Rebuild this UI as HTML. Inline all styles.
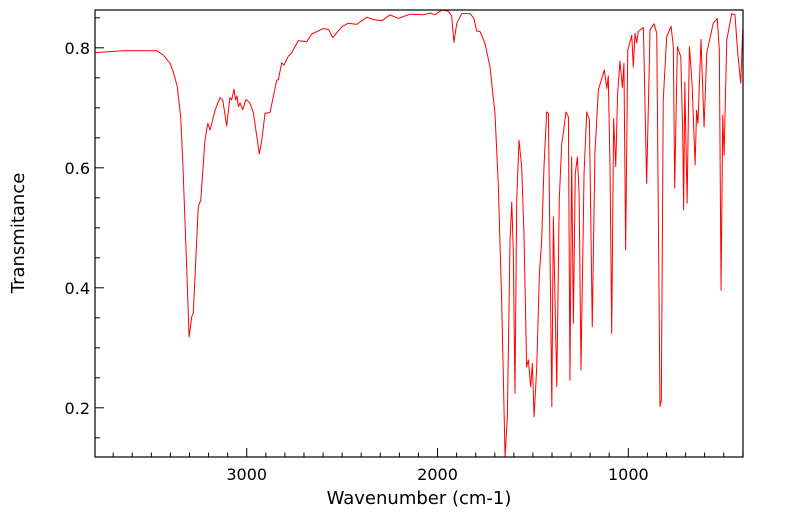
<!DOCTYPE html>
<html><head><meta charset="utf-8"><style>
html,body{margin:0;padding:0;background:#fff;}
svg{display:block;font-family:"DejaVu Sans","Liberation Sans",sans-serif;}
</style></head><body>
<svg id="chart" width="799" height="516" viewBox="0 0 799 516" xmlns="http://www.w3.org/2000/svg">
<defs><clipPath id="clip"><rect x="95" y="10" width="648" height="447"/></clipPath></defs>
<g id="ticks"></g>
<g id="labels"></g>
<path id="line" fill="none" stroke="#ff0000" stroke-width="1" stroke-linejoin="round" clip-path="url(#clip)"/>
<rect x="95" y="10" width="648" height="447" fill="none" stroke="#000" stroke-width="1.2"/>
<text x="419" y="504" font-size="18" text-anchor="middle">Wavenumber (cm-1)</text>
<text x="24" y="233" font-size="18" text-anchor="middle" transform="rotate(-90 24 233)">Transmitance</text>
</svg>
<script>
const wavenumbers = [3795,3648,3472,3437,3402,3385,3364,3346,3335,3318,3302,3288,3280,3254,3241,3219,3204,3192,3166,3140,3126,3105,3088,3079,3067,3058,3051,3044,3035,3021,3004,2983,2965,2934,2921,2904,2878,2843,2834,2817,2805,2782,2764,2730,2686,2659,2599,2572,2549,2502,2468,2423,2371,2336,2292,2249,2205,2144,2074,2039,2013,1978,1943,1926,1914,1899,1873,1830,1809,1795,1777,1751,1725,1699,1681,1664,1646,1634,1620,1611,1603,1594,1585,1573,1559,1547,1533,1524,1512,1503,1494,1480,1466,1454,1442,1428,1419,1401,1393,1375,1362,1349,1341,1327,1314,1306,1297,1288,1278,1267,1258,1248,1232,1218,1204,1189,1175,1157,1126,1113,1105,1096,1087,1077,1066,1056,1044,1031,1023,1014,1003,982,974,965,956,948,921,904,886,865,851,834,827,817,799,776,764,757,743,725,715,710,704,692,680,666,650,642,635,619,603,589,555,534,523,514,505,498,484,458,441,427,411,400];
const transmittance = [0.792,0.795,0.795,0.788,0.774,0.760,0.735,0.685,0.608,0.463,0.318,0.352,0.358,0.535,0.546,0.646,0.674,0.663,0.696,0.717,0.713,0.670,0.717,0.713,0.731,0.713,0.720,0.702,0.708,0.697,0.714,0.708,0.691,0.623,0.646,0.691,0.692,0.746,0.747,0.775,0.771,0.786,0.792,0.812,0.810,0.823,0.832,0.831,0.817,0.835,0.841,0.839,0.851,0.847,0.845,0.855,0.849,0.856,0.855,0.858,0.855,0.863,0.861,0.853,0.809,0.841,0.857,0.857,0.849,0.828,0.827,0.807,0.768,0.691,0.568,0.380,0.118,0.185,0.480,0.543,0.463,0.224,0.546,0.646,0.602,0.491,0.268,0.280,0.235,0.274,0.185,0.268,0.424,0.480,0.602,0.693,0.691,0.202,0.518,0.235,0.546,0.641,0.657,0.693,0.685,0.246,0.618,0.341,0.591,0.618,0.557,0.263,0.591,0.693,0.680,0.335,0.624,0.730,0.763,0.732,0.753,0.602,0.324,0.682,0.602,0.724,0.778,0.734,0.774,0.463,0.796,0.821,0.768,0.824,0.808,0.827,0.834,0.574,0.830,0.840,0.824,0.202,0.213,0.713,0.818,0.836,0.802,0.566,0.802,0.785,0.657,0.530,0.743,0.541,0.802,0.741,0.605,0.696,0.674,0.814,0.668,0.791,0.841,0.849,0.796,0.396,0.688,0.621,0.813,0.857,0.855,0.793,0.741,0.832];
const xTickLabels = [3000, 2000, 1000];
const yTickLabels = [0.2, 0.4, 0.6, 0.8];

const X0 = 94.1, X1 = 742.8, W0 = 3800, W1 = 400;
const Y0 = 457, Y1 = 10, T0 = 0.118, T1 = 0.863;
function xs(w){ return X0 + (w - W0) / (W1 - W0) * (X1 - X0); }
function ys(t){ return Y0 + (t - T0) / (T1 - T0) * (Y1 - Y0); }

const NS = "http://www.w3.org/2000/svg";
let d = "";
for (let i = 0; i < wavenumbers.length; i++) {
  d += (i ? "L" : "M") + xs(wavenumbers[i]).toFixed(2) + " " + ys(transmittance[i]).toFixed(2);
}
document.getElementById("line").setAttribute("d", d);

const tg = document.getElementById("ticks");
const lg = document.getElementById("labels");
function line(x1, y1, x2, y2, name) {
  const l = document.createElementNS(NS, "line");
  l.setAttribute("x1", x1); l.setAttribute("y1", y1);
  l.setAttribute("x2", x2); l.setAttribute("y2", y2);
  l.setAttribute("stroke", "#000"); l.setAttribute("stroke-width", "1");
  
  
  tg.appendChild(l);
}
for (let w = 3700; w >= 400; w -= 100) {
  const x = xs(w);
  const major = xTickLabels.indexOf(w) >= 0;
  line(x, 457, x, major ? 448 : 452.5, "x-tick");
}
for (let k = 3; k <= 17; k++) {
  const t = k * 0.05;
  if (t < T0 || t > T1) continue;
  const y = ys(t);
  const major = k % 4 === 0;
  line(95, y, major ? 104 : 100, y, "y-tick");
}
xTickLabels.forEach(v => {
  const t = document.createElementNS(NS, "text");
  t.setAttribute("x", xs(v)); t.setAttribute("y", 480);
  t.setAttribute("font-size", "16"); t.setAttribute("text-anchor", "middle");
  t.textContent = v;
  
  
  lg.appendChild(t);
});
yTickLabels.forEach(v => {
  const t = document.createElementNS(NS, "text");
  t.setAttribute("x", 90); t.setAttribute("y", ys(v) + 6);
  t.setAttribute("font-size", "16"); t.setAttribute("text-anchor", "end");
  t.textContent = v.toFixed(1);
  
  
  lg.appendChild(t);
});
</script>
</body></html>
